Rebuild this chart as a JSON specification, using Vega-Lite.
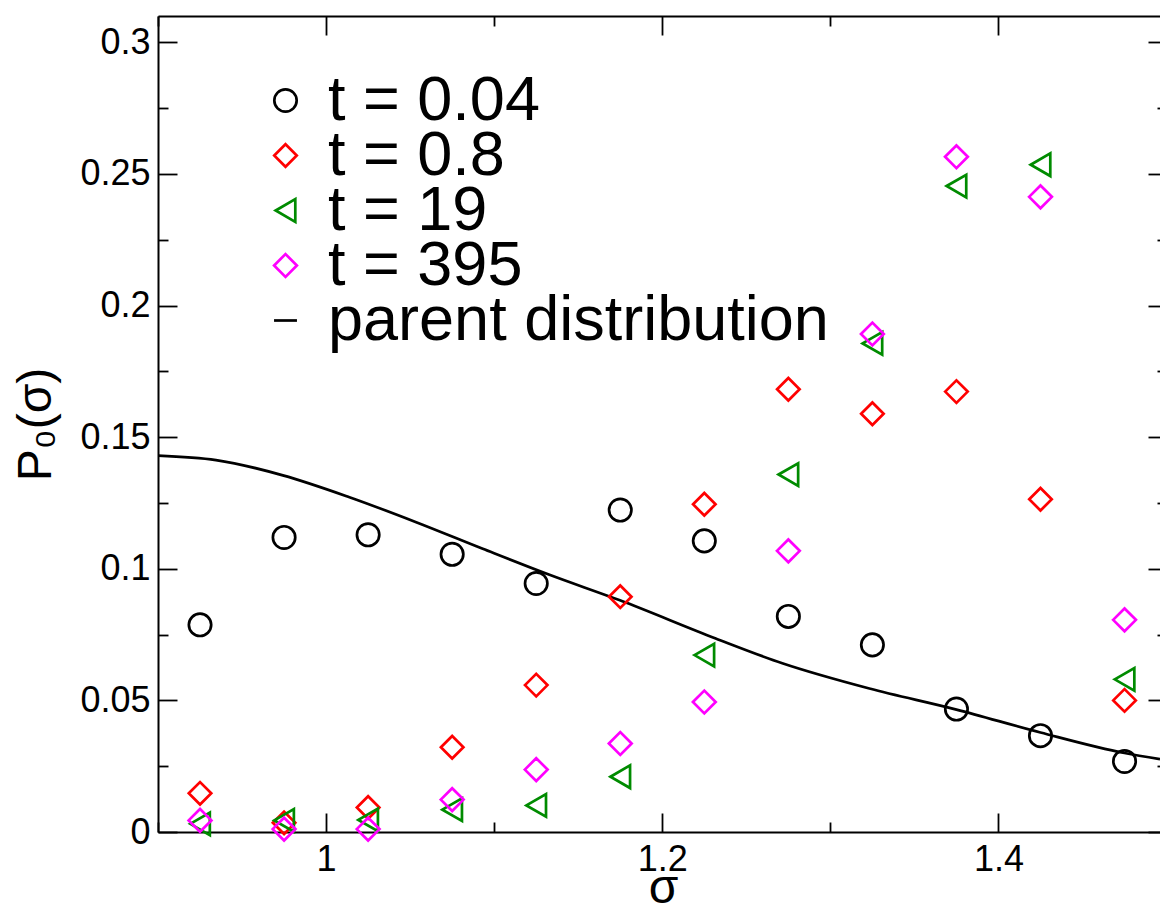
{
  "$schema": "https://vega.github.io/schema/vega-lite/v6.json",
  "width": 1002,
  "height": 816,
  "autosize": {"type": "none"},
  "padding": {"left": 158, "top": 16, "right": 0, "bottom": 76},
  "background": "white",
  "config": {
    "view": {"stroke": null},
    "font": "Liberation Sans",
    "style": {"guide-label": {"lineHeight": -8.7}},
    "axis": {
      "domainColor": "black", "domainWidth": 2, "tickColor": "black", "tickWidth": 1.8,
      "labelFont": "Liberation Sans", "labelColor": "black", "labelFontSize": 36,
      "titleFont": "Liberation Sans", "titleFontSize": 48, "titleFontWeight": "normal", "titleColor": "black",
      "grid": false, "labelOverlap": false, "labelFlush": false, "labelBound": false
    }
  },
  "datasets": {
    "parent": [
      {"sigma": 0.9, "P": 0.1430},
      {"sigma": 0.9345, "P": 0.1413},
      {"sigma": 0.9743, "P": 0.1355},
      {"sigma": 1.0139, "P": 0.1272},
      {"sigma": 1.0536, "P": 0.1177},
      {"sigma": 1.0932, "P": 0.1076},
      {"sigma": 1.1329, "P": 0.0977},
      {"sigma": 1.1748, "P": 0.0880},
      {"sigma": 1.2318, "P": 0.0735},
      {"sigma": 1.2714, "P": 0.0641},
      {"sigma": 1.3232, "P": 0.0545},
      {"sigma": 1.375, "P": 0.0465},
      {"sigma": 1.425, "P": 0.0378},
      {"sigma": 1.475, "P": 0.0300},
      {"sigma": 1.4961, "P": 0.0277}
    ],
    "points": [
      {"sigma": 0.925, "P": 0.0787, "series": "t = 0.04"},
      {"sigma": 0.975, "P": 0.1119, "series": "t = 0.04"},
      {"sigma": 1.025, "P": 0.1129, "series": "t = 0.04"},
      {"sigma": 1.075, "P": 0.1055, "series": "t = 0.04"},
      {"sigma": 1.125, "P": 0.0944, "series": "t = 0.04"},
      {"sigma": 1.175, "P": 0.1223, "series": "t = 0.04"},
      {"sigma": 1.225, "P": 0.1106, "series": "t = 0.04"},
      {"sigma": 1.275, "P": 0.0819, "series": "t = 0.04"},
      {"sigma": 1.325, "P": 0.0711, "series": "t = 0.04"},
      {"sigma": 1.375, "P": 0.0467, "series": "t = 0.04"},
      {"sigma": 1.425, "P": 0.0366, "series": "t = 0.04"},
      {"sigma": 1.475, "P": 0.0268, "series": "t = 0.04"},
      {"sigma": 0.925, "P": 0.0147, "series": "t = 0.8"},
      {"sigma": 0.975, "P": 0.0035, "series": "t = 0.8"},
      {"sigma": 1.025, "P": 0.0093, "series": "t = 0.8"},
      {"sigma": 1.075, "P": 0.0322, "series": "t = 0.8"},
      {"sigma": 1.125, "P": 0.0558, "series": "t = 0.8"},
      {"sigma": 1.175, "P": 0.0894, "series": "t = 0.8"},
      {"sigma": 1.225, "P": 0.1245, "series": "t = 0.8"},
      {"sigma": 1.275, "P": 0.1682, "series": "t = 0.8"},
      {"sigma": 1.325, "P": 0.1589, "series": "t = 0.8"},
      {"sigma": 1.375, "P": 0.1673, "series": "t = 0.8"},
      {"sigma": 1.425, "P": 0.1264, "series": "t = 0.8"},
      {"sigma": 1.475, "P": 0.0500, "series": "t = 0.8"},
      {"sigma": 0.925, "P": 0.0031, "series": "t = 19"},
      {"sigma": 0.975, "P": 0.0044, "series": "t = 19"},
      {"sigma": 1.025, "P": 0.0046, "series": "t = 19"},
      {"sigma": 1.075, "P": 0.0085, "series": "t = 19"},
      {"sigma": 1.125, "P": 0.0101, "series": "t = 19"},
      {"sigma": 1.175, "P": 0.0210, "series": "t = 19"},
      {"sigma": 1.225, "P": 0.0672, "series": "t = 19"},
      {"sigma": 1.275, "P": 0.1358, "series": "t = 19"},
      {"sigma": 1.325, "P": 0.1856, "series": "t = 19"},
      {"sigma": 1.375, "P": 0.2454, "series": "t = 19"},
      {"sigma": 1.425, "P": 0.2535, "series": "t = 19"},
      {"sigma": 1.475, "P": 0.0580, "series": "t = 19"},
      {"sigma": 0.925, "P": 0.0044, "series": "t = 395"},
      {"sigma": 0.975, "P": 0.0011, "series": "t = 395"},
      {"sigma": 1.025, "P": 0.0011, "series": "t = 395"},
      {"sigma": 1.075, "P": 0.0123, "series": "t = 395"},
      {"sigma": 1.125, "P": 0.0237, "series": "t = 395"},
      {"sigma": 1.175, "P": 0.0336, "series": "t = 395"},
      {"sigma": 1.225, "P": 0.0494, "series": "t = 395"},
      {"sigma": 1.275, "P": 0.1068, "series": "t = 395"},
      {"sigma": 1.325, "P": 0.1892, "series": "t = 395"},
      {"sigma": 1.375, "P": 0.2565, "series": "t = 395"},
      {"sigma": 1.425, "P": 0.2413, "series": "t = 395"},
      {"sigma": 1.475, "P": 0.0806, "series": "t = 395"}
    ]
  },
  "layer": [
    {
      "data": {"name": "parent"},
      "mark": {"type": "line", "color": "black", "strokeWidth": 2.7, "clip": true, "interpolate": "monotone"},
      "encoding": {
        "x": {
          "field": "sigma", "type": "quantitative",
          "scale": {"domain": [0.9, 1.4961], "nice": false, "zero": false},
          "axis": {
            "orient": "bottom",
            "values": [0.9, 1, 1.1, 1.2, 1.3, 1.4],
            "tickSize": {"condition": {"test": "abs(datum.value*5 - round(datum.value*5)) < 1e-6", "value": -19}, "value": -10},
            "labelExpr": "abs(datum.value*5 - round(datum.value*5)) < 1e-6 ? format(datum.value, '.1~f') : ''",
            "labelPadding": 29,
            "title": "σ",
            "titleX": 505,
            "titleY": 70,
            "titleBaseline": "alphabetic"
          }
        },
        "y": {
          "field": "P", "type": "quantitative",
          "scale": {"domain": [0, 0.31], "nice": false, "zero": false},
          "axis": {
            "orient": "left",
            "values": [0, 0.025, 0.05, 0.075, 0.1, 0.125, 0.15, 0.175, 0.2, 0.225, 0.25, 0.275, 0.3],
            "tickSize": {"condition": {"test": "abs(datum.value*20 - round(datum.value*20)) < 1e-6", "value": -19}, "value": -10},
            "labelExpr": "abs(datum.value*20 - round(datum.value*20)) < 1e-6 ? format(datum.value, '.2~f') : ''",
            "labelPadding": 27,
            "title": "P₀(σ)",
            "titleX": -108,
            "titleY": 408,
            "titleBaseline": "alphabetic"
          }
        }
      }
    },
    {
      "data": {"name": "points"},
      "mark": {"type": "point", "filled": false, "strokeWidth": 2.7, "opacity": 1},
      "encoding": {
        "x": {
          "field": "sigma", "type": "quantitative",
          "axis": {
            "orient": "top",
            "values": [0.9, 1, 1.1, 1.2, 1.3, 1.4],
            "tickSize": {"condition": {"test": "abs(datum.value*5 - round(datum.value*5)) < 1e-6", "value": -19}, "value": -10},
            "labels": false,
            "title": null
          }
        },
        "y": {
          "field": "P", "type": "quantitative",
          "axis": {
            "orient": "right",
            "offset": 7,
            "values": [0, 0.025, 0.05, 0.075, 0.1, 0.125, 0.15, 0.175, 0.2, 0.225, 0.25, 0.275, 0.3],
            "tickSize": {"condition": {"test": "abs(datum.value*20 - round(datum.value*20)) < 1e-6", "value": -19}, "value": -10},
            "labels": false,
            "title": null
          }
        },
        "color": {
          "field": "series", "type": "nominal",
          "scale": {
            "domain": ["t = 0.04", "t = 0.8", "t = 19", "t = 395", "parent distribution"],
            "range": ["#000000", "#ff0000", "#008b00", "#ff00ff", "#000000"]
          },
          "legend": {
            "orient": "none", "legendX": 96, "legendY": 53, "title": null,
            "labelFontSize": 63, "labelFont": "Liberation Sans", "labelColor": "black",
            "labelLimit": 0, "symbolSize": 600, "symbolStrokeWidth": 2.7,
            "labelOffset": 11, "rowPadding": 0, "padding": 0,
            "labelExpr": "[datum.label, '']"
          }
        },
        "shape": {
          "field": "series", "type": "nominal",
          "scale": {
            "domain": ["t = 0.04", "t = 0.8", "t = 19", "t = 395", "parent distribution"],
            "range": ["circle", "diamond", "triangle-left", "diamond", "stroke"]
          },
          "legend": {
            "orient": "none", "legendX": 96, "legendY": 53, "title": null,
            "labelFontSize": 63, "labelFont": "Liberation Sans", "labelColor": "black",
            "labelLimit": 0, "symbolSize": 600, "symbolStrokeWidth": 2.7,
            "labelOffset": 11, "rowPadding": 0, "padding": 0,
            "labelExpr": "[datum.label, '']"
          }
        },
        "size": {
          "field": "series", "type": "nominal",
          "scale": {
            "domain": ["t = 0.04", "t = 0.8", "t = 19", "t = 395", "parent distribution"],
            "range": [500, 525, 680, 525, 500]
          },
          "legend": null
        }
      }
    }
  ],
  "resolve": {"axis": {"x": "independent", "y": "independent"}}
}
